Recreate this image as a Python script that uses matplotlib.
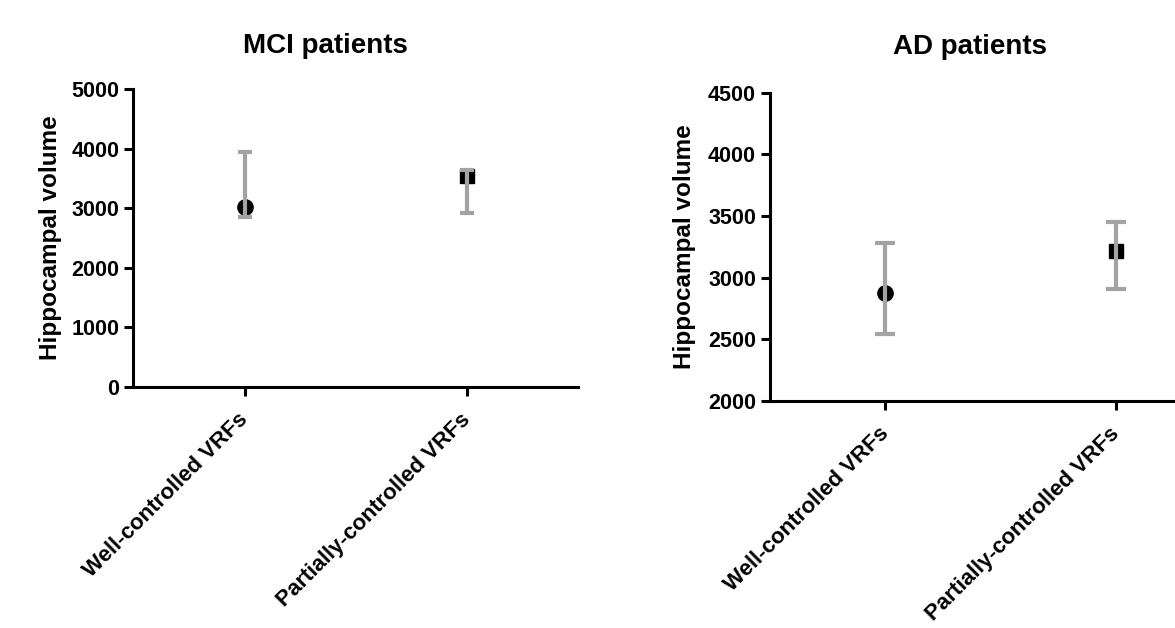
import matplotlib.pyplot as plt

plt.rcParams['font.family'] = ['Liberation Sans', 'DejaVu Sans']
plt.rcParams['font.weight'] = 'bold'

categories = ['Well-controlled VRFs', 'Partially-controlled VRFs']
markers = ['o', 's']
marker_sizes = [11, 9.5]

# MCI patients: mean and error bar ends
mci_means = [3026, 3535]
mci_lower = [2848, 2915]
mci_upper = [3951, 3643]

# AD patients
ad_means = [2872, 3215]
ad_lower = [2541, 2907]
ad_upper = [3282, 3453]

mci_yticks = [0, 1000, 2000, 3000, 4000, 5000]
ad_yticks = [2000, 2500, 3000, 3500, 4000, 4500]

bar_grey = '#a3a3a3'

fig = plt.figure(figsize=(11.75, 6.28), dpi=100)
ax1 = fig.add_axes([0.1135, 0.3842, 0.3785, 0.4736])
ax2 = fig.add_axes([0.6553, 0.3619, 0.3932, 0.4905])


def draw_panel(ax, means, lower, upper, yticks, capsize):
    for i, cat in enumerate(categories):
        ax.plot([cat], [means[i]], marker=markers[i], ms=marker_sizes[i],
                color='black', linestyle='none', zorder=2)
        ax.errorbar([cat], [means[i]],
                    yerr=[[means[i] - lower[i]], [upper[i] - means[i]]],
                    fmt='none', ecolor=bar_grey, elinewidth=3,
                    capsize=capsize, capthick=3, zorder=3)
    ax.set_xlim(-0.5, 1.5)
    ax.set_ylim(yticks[0], yticks[-1])
    ax.set_yticks(yticks)
    for s in ['top', 'right']:
        ax.spines[s].set_visible(False)
    for s in ['left', 'bottom']:
        ax.spines[s].set_linewidth(2.2)
    ax.tick_params(axis='both', length=6.5, width=2.2, labelsize=15.5)
    ax.tick_params(axis='x', pad=15, labelsize=16)
    for lab in ax.get_xticklabels():
        lab.set_rotation(45)
        lab.set_rotation_mode('anchor')
        lab.set_ha('right')
        lab.set_va('center')
        lab.set_fontweight('bold')
    for lab in ax.get_yticklabels():
        lab.set_fontweight('bold')
    ax.set_ylabel('Hippocampal volume', fontsize=17.5, fontweight='bold')
    ax.yaxis.set_label_coords(-0.161, 0.5)


draw_panel(ax1, mci_means, mci_lower, mci_upper, mci_yticks, 5)
draw_panel(ax2, ad_means, ad_lower, ad_upper, ad_yticks, 7)

fig.text(0.2766, 0.9156, 'MCI patients', fontsize=20, fontweight='bold',
         ha='center', va='baseline')
fig.text(0.8255, 0.914, 'AD patients', fontsize=20, fontweight='bold',
         ha='center', va='baseline')

fig.savefig('out.png', dpi=100)
